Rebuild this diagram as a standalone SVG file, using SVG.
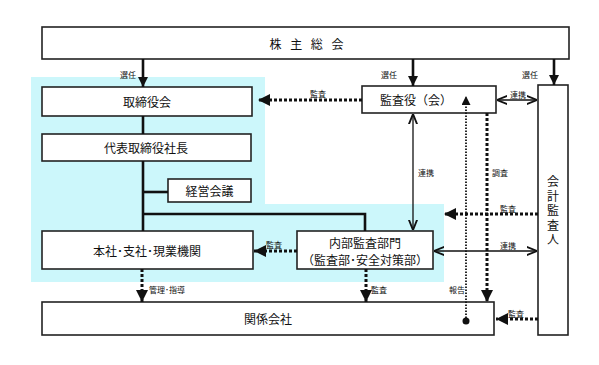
<svg xmlns="http://www.w3.org/2000/svg" width="599" height="365" viewBox="0 0 599 365">
<defs>
<style>
.box{fill:#fff;stroke:#222;stroke-width:1.6}
.t{font-family:"Noto Sans CJK JP","Liberation Sans",sans-serif;font-size:12px;fill:#111;text-anchor:middle;dominant-baseline:central}
.s{font-family:"Noto Sans CJK JP","Liberation Sans",sans-serif;font-size:8px;fill:#111;dominant-baseline:central}
.thick{stroke:#111;stroke-width:2.6;fill:none}
.dot{stroke:#111;stroke-width:3;stroke-dasharray:3 2;fill:none}
.fine{stroke:#111;stroke-width:1.8;stroke-dasharray:1.5 1.5;fill:none}
.thin{stroke:#111;stroke-width:1.3;fill:none}
</style>
<marker id="ah" viewBox="0 0 10 10" refX="10" refY="5" markerWidth="4" markerHeight="4" orient="auto-start-reverse" markerUnits="strokeWidth"><path d="M0,0L10,5L0,10z" fill="#111"/></marker>
<marker id="ahs" viewBox="0 0 10 10" refX="10" refY="5" markerWidth="8" markerHeight="8" orient="auto-start-reverse" markerUnits="strokeWidth"><path d="M0,1L10,5L0,9" fill="none" stroke="#111" stroke-width="1.8"/></marker>
<marker id="ahf" viewBox="0 0 10 10" refX="10" refY="5" markerWidth="5" markerHeight="5" orient="auto-start-reverse" markerUnits="strokeWidth"><path d="M0,0L10,5L0,10z" fill="#111"/></marker>
</defs>
<rect width="599" height="365" fill="#fff"/>
<path d="M31,77H265V204H444V282H31Z" fill="#ccf7fb"/>

<g id="shareholders"><rect class="box" x="42" y="27" width="527" height="32"/><text class="t" x="308" y="43" style="letter-spacing:3px">株 主 総 会</text></g>
<g id="board"><rect class="box" x="42" y="87" width="210" height="29"/><text class="t" x="147" y="101.5">取締役会</text></g>
<g id="president"><rect class="box" x="42" y="134" width="209" height="27"/><text class="t" x="146" y="147.5">代表取締役社長</text></g>
<g id="mgmt-council"><rect class="box" x="168" y="179" width="83" height="23"/><text class="t" x="209.5" y="190.5">経営会議</text></g>
<g id="head-office"><rect class="box" x="42" y="231" width="211" height="38"/><text class="t" x="147" y="250">本社･支社･現業機関</text></g>
<g id="internal-audit"><rect class="box" x="297" y="231" width="136" height="38"/><text class="t" x="365" y="242">内部監査部門</text><text class="t" x="365" y="259">（監査部･安全対策部）</text></g>
<g id="affiliates"><rect class="box" x="42" y="302" width="452" height="33"/><text class="t" x="268" y="318.5">関係会社</text></g>
<g id="auditors"><rect class="box" x="362" y="86" width="134" height="27"/><text class="t" x="416" y="99.5">監査役（会）</text></g>
<g id="accounting-auditor"><rect class="box" x="538" y="85" width="30" height="250"/>
<text class="t" x="553" y="212" style="writing-mode:vertical-rl;letter-spacing:2.5px">会計監査人</text></g>

<g id="connectors">
<line class="thick" x1="143" y1="116" x2="143" y2="134"/>
<line class="thick" x1="143" y1="161" x2="143" y2="231"/>
<line class="thick" x1="143" y1="192" x2="168" y2="192"/>
<polyline class="thick" points="143,214 365,214 365,231"/>
<line class="thick" x1="143" y1="59" x2="143" y2="87" marker-end="url(#ah)"/>
<line class="thick" x1="413" y1="59" x2="413" y2="86" marker-end="url(#ah)"/>
<line class="thick" x1="554" y1="59" x2="554" y2="85" marker-end="url(#ah)"/>
<line class="dot" x1="362" y1="100" x2="258" y2="100" marker-end="url(#ah)"/>
<line class="thin" x1="497" y1="100" x2="537" y2="100" marker-start="url(#ahs)" marker-end="url(#ahs)"/>
<line class="thin" x1="413" y1="114" x2="413" y2="230" marker-start="url(#ahs)" marker-end="url(#ahs)"/>
<line class="fine" x1="466" y1="321" x2="466" y2="96" marker-end="url(#ahf)"/>
<circle cx="466" cy="321" r="3.5" fill="#111"/>
<line class="dot" x1="487" y1="113" x2="487" y2="302" marker-end="url(#ah)"/>
<line class="dot" x1="538" y1="214" x2="444" y2="214" marker-end="url(#ah)"/>
<line class="thin" x1="434" y1="251" x2="537" y2="251" marker-start="url(#ahs)" marker-end="url(#ahs)"/>
<line class="dot" x1="538" y1="319" x2="496" y2="319" marker-end="url(#ah)"/>
<line class="dot" x1="366" y1="269" x2="366" y2="302" marker-end="url(#ah)"/>
<line class="dot" x1="297" y1="251" x2="254" y2="251" marker-end="url(#ah)"/>
<line class="dot" x1="142" y1="269" x2="142" y2="302" marker-end="url(#ah)"/>
<text class="s" x="120" y="74">選任</text>
<text class="s" x="381" y="74">選任</text>
<text class="s" x="522" y="74">選任</text>
<text class="s" x="310" y="93">監査</text>
<text class="s" x="510" y="94">連携</text>
<text class="s" x="418" y="172">連携</text>
<text class="s" x="492" y="172">調査</text>
<text class="s" x="500" y="208">監査</text>
<text class="s" x="500" y="245">連携</text>
<text class="s" x="508" y="313">監査</text>
<text class="s" x="266" y="244">監査</text>
<text class="s" x="371" y="289">監査</text>
<text class="s" x="149" y="289">管理･指導</text>
<text class="s" x="449" y="289">報告</text>
</g>
</svg>
